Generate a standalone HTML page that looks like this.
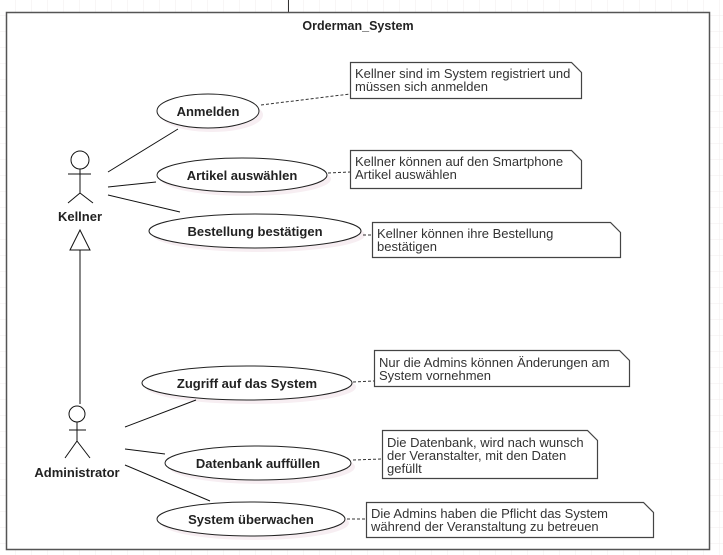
<!DOCTYPE html>
<html><head><meta charset="utf-8"><style>
html,body{margin:0;padding:0;background:#fff;}
svg{display:block;font-family:"Liberation Sans",Arial,sans-serif;}
.b{font-weight:bold;font-size:13px;fill:#222;}
.n{font-size:13px;fill:#333;}
</style></head><body>
<svg width="723" height="555" viewBox="0 0 723 555" xmlns="http://www.w3.org/2000/svg">
<defs>
<pattern id="g" width="16" height="16" patternUnits="userSpaceOnUse">
<path d="M16 0V16M0 16H16" stroke="#f0ecee" stroke-width="1" fill="none"/>
</pattern>
</defs>
<rect width="723" height="555" fill="url(#g)"/>
<line x1="288.5" y1="0" x2="288.5" y2="12" stroke="#333"/>
<rect x="6.5" y="12.5" width="703" height="537" fill="#fff" stroke="#555" stroke-width="1.5"/>
<text x="358" y="30" class="b" text-anchor="middle" style="font-size:12.5px">Orderman_System</text>

<g fill="#f7eef2">
<ellipse cx="212" cy="115" rx="51" ry="17"/>
<ellipse cx="246" cy="179" rx="85" ry="17"/>
<ellipse cx="259" cy="235" rx="106" ry="17"/>
<ellipse cx="251" cy="387" rx="105" ry="17"/>
<ellipse cx="262" cy="467" rx="93" ry="17"/>
<ellipse cx="255" cy="523" rx="94" ry="17"/>
</g>
<g fill="#fff" stroke="#222" stroke-width="1">
<ellipse cx="208" cy="111" rx="51" ry="17"/>
<ellipse cx="242" cy="175" rx="85" ry="17"/>
<ellipse cx="255" cy="231" rx="106" ry="17"/>
<ellipse cx="247" cy="383" rx="105" ry="17"/>
<ellipse cx="258" cy="463" rx="93" ry="17"/>
<ellipse cx="251" cy="519" rx="94" ry="17"/>
</g>
<g class="b" text-anchor="middle">
<text x="208" y="116">Anmelden</text>
<text x="242" y="180">Artikel auswählen</text>
<text x="255" y="236">Bestellung bestätigen</text>
<text x="247" y="388">Zugriff auf das System</text>
<text x="258" y="468">Datenbank auffüllen</text>
<text x="251" y="524">System überwachen</text>
</g>

<g stroke="#111" fill="none" stroke-width="1">
<circle cx="80" cy="160" r="9"/>
<path d="M80 169V193M68 174H91M80 193L68 203M80 193L93 203"/>
<path d="M80 230L70 250H90Z M80 250V404"/>
<circle cx="77" cy="414" r="8"/>
<path d="M77 422V441M69 430H86M77 441L65 458M77 441L90 458"/>
<path d="M108 172L178 129M108 187L156 182M108 195L180 212"/>
<path d="M125 427L196 400M125 449L165 454M125 465L210 501"/>
</g>
<text x="80" y="221" class="b" text-anchor="middle">Kellner</text>
<text x="77" y="477" class="b" text-anchor="middle">Administrator</text>

<g stroke="#333" stroke-dasharray="3,2" fill="none">
<path d="M261 105L350 94M328 173L350 172M363 235L372 235M353 382L374 381M353 460L382 459M347 519L366 519"/>
</g>
<g fill="#fff" stroke="#444" stroke-width="1.2">
<path d="M350.5 62.5H571.5L581.5 72.5V98.5H350.5Z M571.5 62.5L581.5 72.5"/>
<path d="M350.5 150.5H571.5L581.5 160.5V188.5H350.5Z M571.5 150.5L581.5 160.5"/>
<path d="M372.5 222.5H610.5L620.5 232.5V257.5H372.5Z M610.5 222.5L620.5 232.5"/>
<path d="M374.5 350.5H619.5L629.5 360.5V386.5H374.5Z M619.5 350.5L629.5 360.5"/>
<path d="M382.5 430.5H587.5L597.5 440.5V478.5H382.5Z M587.5 430.5L597.5 440.5"/>
<path d="M366.5 502.5H643.5L653.5 512.5V537.5H366.5Z M643.5 502.5L653.5 512.5"/>
</g>
<g class="n">
<text x="355" y="78">Kellner sind im System registriert und</text>
<text x="355" y="91">müssen sich anmelden</text>
<text x="355" y="166">Kellner können auf den Smartphone</text>
<text x="355" y="179">Artikel auswählen</text>
<text x="377" y="238">Kellner können ihre Bestellung</text>
<text x="377" y="251">bestätigen</text>
<text x="379" y="367">Nur die Admins können Änderungen am</text>
<text x="379" y="380">System vornehmen</text>
<text x="387" y="447">Die Datenbank, wird nach wunsch</text>
<text x="387" y="460">der Veranstalter, mit den Daten</text>
<text x="387" y="473">gefüllt</text>
<text x="371" y="518">Die Admins haben die Pflicht das System</text>
<text x="371" y="531">während der Veranstaltung zu betreuen</text>
</g>
</svg>
</body></html>
